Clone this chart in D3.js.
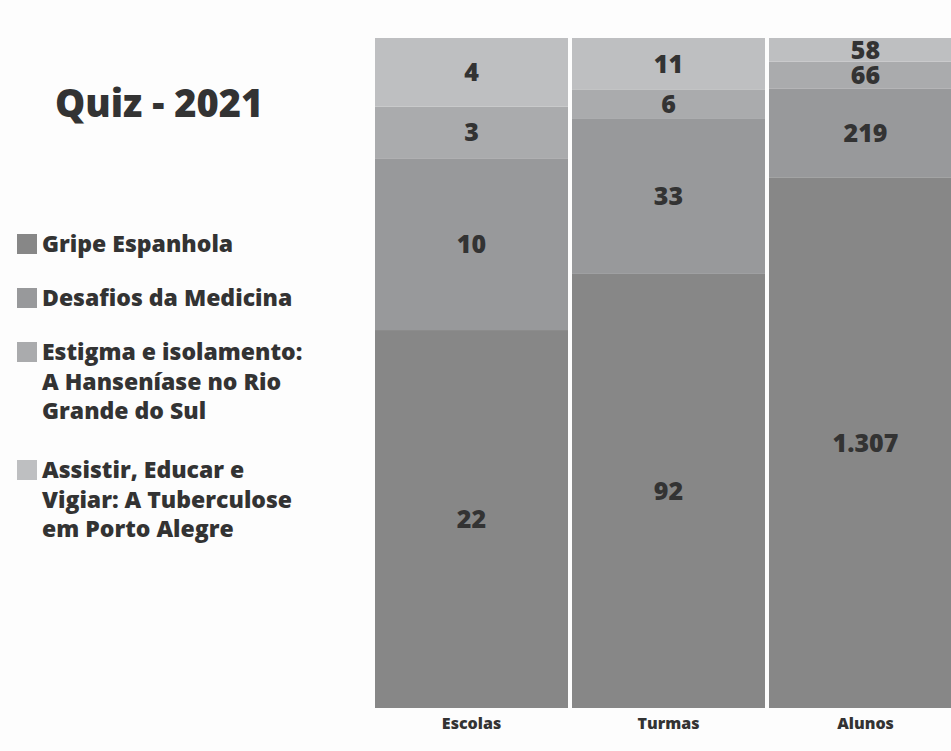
<!DOCTYPE html>
<html>
<head>
<meta charset="utf-8">
<script src="https://cdn.jsdelivr.net/npm/d3@7"></script>
<style>
  html, body { margin: 0; padding: 0; background: #fdfdfd; }
  svg { display: block; font-family: "Open Sans", Lato, sans-serif; }
</style>
</head>
<body>
<svg id="chart" width="951" height="751"></svg>
<script>
// Quiz 2021 participation: schools, classes and students per quiz theme
const categories = ["Escolas", "Turmas", "Alunos"];
const seriesNames = [
  "Gripe Espanhola",
  "Desafios da Medicina",
  "Estigma e isolamento: A Hanseníase no Rio Grande do Sul",
  "Assistir, Educar e Vigiar: A Tuberculose em Porto Alegre"
];
const gripeEspanhola   = [22, 92, 1307];
const desafiosMedicina = [10, 33, 219];
const estigmaHansen    = [3, 6, 66];
const assistirTuberc   = [4, 11, 58];
const legendLines = [
  ["Gripe Espanhola"],
  ["Desafios da Medicina"],
  ["Estigma e isolamento:", "A Hanseníase no Rio", "Grande do Sul"],
  ["Assistir, Educar e", "Vigiar: A Tuberculose", "em Porto Alegre"]
];
const colors = ["#878787", "#98999b", "#aaabad", "#bebfc1"];
const textColor = "#333333";

const seriesValues = [gripeEspanhola, desafiosMedicina, estigmaHansen, assistirTuberc];
const rows = categories.map((c, i) => {
  const r = { category: c };
  seriesNames.forEach((s, k) => { r[s] = seriesValues[k][i]; });
  return r;
});

const svg = d3.select("#chart");

const stack = d3.stack().keys(seriesNames).offset(d3.stackOffsetExpand);
const layers = stack(rows);

const x = d3.scaleBand().domain(categories).range([375, 962]).paddingInner(4 / 197).paddingOuter(0);
const y = d3.scaleLinear().domain([0, 1]).range([708, 38]);
const color = d3.scaleOrdinal().domain(seriesNames).range(colors);

const ptBR = d3.formatLocale({ decimal: ",", thousands: ".", grouping: [3], currency: ["R$", ""] });
const fmt = ptBR.format(",d");

// stacked 100% bars
const g = svg.append("g");
layers.forEach(layer => {
  const lg = g.append("g").attr("fill", color(layer.key));
  lg.selectAll("rect")
    .data(layer)
    .join("rect")
    .attr("x", d => x(d.data.category))
    .attr("y", d => y(d[1]))
    .attr("width", x.bandwidth())
    .attr("height", d => y(d[0]) - y(d[1]));
});

// value labels centered in each segment
layers.forEach(layer => {
  g.append("g")
    .selectAll("text")
    .data(layer)
    .join("text")
    .attr("x", d => x(d.data.category) + x.bandwidth() / 2)
    .attr("y", d => (y(d[0]) + y(d[1])) / 2)
    .attr("dy", "0.36em")
    .attr("text-anchor", "middle")
    .attr("font-size", 25)
    .attr("font-weight", 800)
    .attr("fill", textColor)
    .text(d => fmt(d.data[layer.key]));
});

// category axis labels
const xAxis = d3.axisBottom(x).tickSize(0).tickPadding(10);
const ax = svg.append("g").attr("transform", "translate(0,708)").call(xAxis);
ax.select(".domain").remove();
ax.selectAll("text")
  .attr("font-size", 16)
  .attr("font-weight", 800)
  .attr("font-family", "'Open Sans', sans-serif")
  .attr("fill", textColor);

// title
svg.append("text")
  .attr("x", 55)
  .attr("y", 117)
  .attr("font-size", 38)
  .attr("font-weight", 800)
  .attr("fill", textColor)
  .text("Quiz - 2021");

// legend
const legendTop = [244, 298, 352, 470];
const lineH = 29.5;
const legend = svg.append("g");
seriesNames.forEach((s, k) => {
  const item = legend.append("g").attr("transform", `translate(0,${legendTop[k]})`);
  item.append("rect")
    .attr("x", 17).attr("y", -10)
    .attr("width", 20).attr("height", 20)
    .attr("fill", color(s));
  item.selectAll("text")
    .data(legendLines[k])
    .join("text")
    .attr("x", 42)
    .attr("y", (d, i) => i * lineH)
    .attr("dy", "0.36em")
    .attr("font-size", 23)
    .attr("font-weight", 800)
    .attr("fill", textColor)
    .text(d => d);
});
</script>
</body>
</html>
